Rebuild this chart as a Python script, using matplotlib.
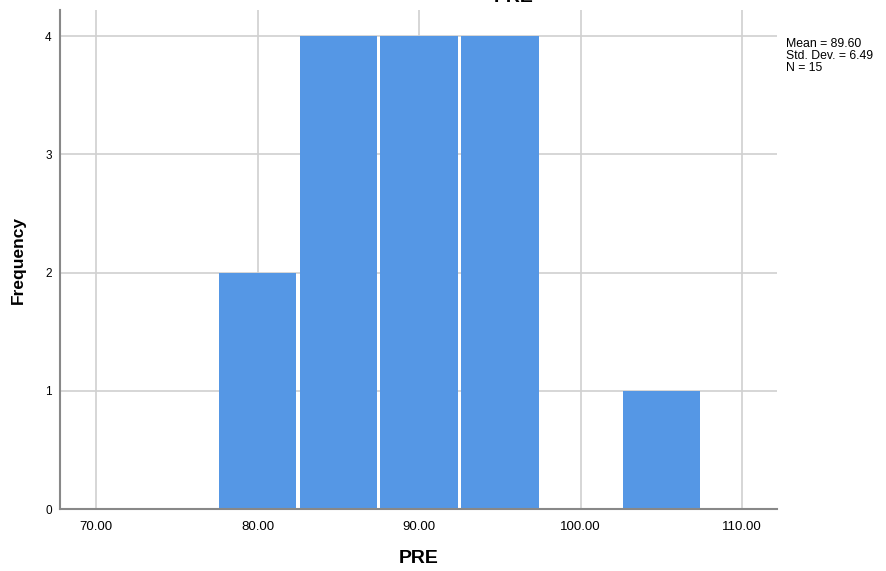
import numpy as np
import matplotlib.pyplot as plt

plt.rcParams['font.family'] = ['Liberation Sans', 'DejaVu Sans']

# histogram of PRE (bin width 5)
bin_centers = np.array([80, 85, 90, 95, 100, 105])
counts = np.array([2, 4, 4, 4, 0, 1])
bar_width = 4.8   # a small white gap is left between bins
x_ticks = [70, 80, 90, 100, 110]
y_ticks = [0, 1, 2, 3, 4]
stats_text = "Mean = 89.60\nStd. Dev. = 6.49\nN = 15"

fig = plt.figure(figsize=(8.87, 5.71), dpi=100)
ax = fig.add_axes([60/887, 1 - 509/571, (777 - 60)/887, (509 - 10)/571])

ax.bar(bin_centers, counts, width=bar_width, color='#5597E5',
       linewidth=0, zorder=2)

ax.set_xlim(67.77, 112.15)
ax.set_ylim(0, 4.22)
ax.set_xticks(x_ticks)
ax.set_xticklabels(['%.2f' % v for v in x_ticks])
ax.set_yticks(y_ticks)

## grid
ax.grid(color='#D0D0D0', linewidth=1.2)
ax.set_axisbelow(True)

for s in ['top', 'right']:
    ax.spines[s].set_visible(False)
for s in ['left', 'bottom']:
    ax.spines[s].set_color('#888888')
    ax.spines[s].set_linewidth(1.5)
    ax.spines[s].set_zorder(4)
ax.tick_params(length=0)
ax.tick_params(axis='x', labelsize=9.5, pad=9)
ax.tick_params(axis='y', labelsize=8.5, pad=6)

ax.set_xlabel('PRE', fontsize=14, fontweight='bold', labelpad=12)
ax.set_ylabel('Frequency', fontsize=12.5, fontweight='bold', labelpad=14)

fig.text(514/887, 1 - 2/571, 'PRE', ha='center', va='baseline',
         fontsize=14, fontweight='bold')
fig.text(786/887, 1 - 38/571, stats_text, ha='left', va='top',
         fontsize=8.8, linespacing=1.0)

fig.savefig('out.png', dpi=100)
